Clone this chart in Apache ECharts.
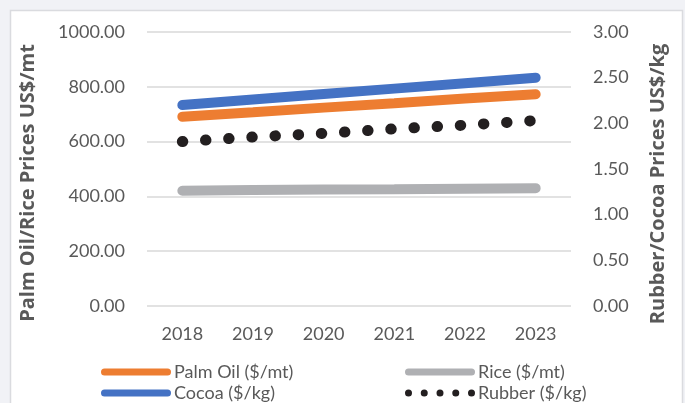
<!DOCTYPE html>
<html>
<head>
<meta charset="utf-8">
<script src="https://cdn.jsdelivr.net/npm/echarts@6/dist/echarts.min.js"></script>
<style>
html,body{margin:0;padding:0;background:#f1f2f6;}
#c{width:685px;height:403px;}
</style>
</head>
<body>
<div id="c"></div>
<script>
var years = ['2018', '2019', '2020', '2021', '2022', '2023'];
var palmOil = [691, 707, 724, 740, 757, 773];
var rice = [421, 423, 425, 426, 428, 430];
var cocoa = [2.20, 2.26, 2.32, 2.38, 2.44, 2.50];
var rubber = [1.80, 1.85, 1.89, 1.94, 1.98, 2.03];
var leftTicks = [0, 1000, 200];
var rightTicks = [0, 3, 0.5];

var FONT = 'Lato';
var TXT = '#595959';
var capsule = 'path://M3.5,0 H66.5 A3.5,3.5 0 0 1 66.5,7 H3.5 A3.5,3.5 0 0 1 3.5,0 Z';
var dots = 'path://M0,3.5 A3.5,3.5 0 1 0 7,3.5 A3.5,3.5 0 1 0 0,3.5 Z ' +
  'M15.75,3.5 A3.5,3.5 0 1 0 22.75,3.5 A3.5,3.5 0 1 0 15.75,3.5 Z ' +
  'M31.5,3.5 A3.5,3.5 0 1 0 38.5,3.5 A3.5,3.5 0 1 0 31.5,3.5 Z ' +
  'M47.25,3.5 A3.5,3.5 0 1 0 54.25,3.5 A3.5,3.5 0 1 0 47.25,3.5 Z ' +
  'M63,3.5 A3.5,3.5 0 1 0 70,3.5 A3.5,3.5 0 1 0 63,3.5 Z';

var chart = echarts.init(document.getElementById('c'), null, {renderer: 'canvas'});
var legendText = {color: TXT, fontFamily: FONT, fontSize: 18, lineHeight: 20, padding: [0, 0, 0, -2]};
chart.setOption({
  backgroundColor: '#f1f2f6',
  animation: false,
  graphic: [
    {type: 'rect', z: -100, shape: {x: 10.5, y: 10.5, width: 672, height: 400},
     style: {fill: '#ffffff', stroke: '#dadbdf', lineWidth: 1.5}},
    {type: 'text', x: 28, y: 183, rotation: Math.PI / 2,
     style: {text: 'Palm Oil/Rice Prices US$/mt', fill: TXT, font: 'bold 20px "Open Sans"', align: 'center', verticalAlign: 'middle'}},
    {type: 'text', x: 658, y: 184, rotation: Math.PI / 2,
     style: {text: 'Rubber/Cocoa Prices US$/kg', fill: TXT, font: 'bold 20px "Open Sans"', align: 'center', verticalAlign: 'middle'}}
  ],
  grid: {left: 147, right: 114, top: 32, bottom: 97},
  legend: [
    {orient: 'vertical', left: 101, top: 362, height: 60, padding: 0, itemWidth: 70, itemHeight: 7, itemGap: 1,
     textStyle: legendText, itemStyle: {borderWidth: 0},
     data: [{name: 'Palm Oil ($/mt)', icon: capsule}, {name: 'Cocoa ($/kg)', icon: capsule}]},
    {orient: 'vertical', left: 405, top: 362, height: 60, padding: 0, itemWidth: 70, itemHeight: 7, itemGap: 1,
     textStyle: legendText, itemStyle: {borderWidth: 0},
     data: [{name: 'Rice ($/mt)', icon: capsule}, {name: 'Rubber ($/kg)', icon: dots}]}
  ],
  xAxis: {
    type: 'category', data: years, boundaryGap: true,
    axisLine: {show: false}, axisTick: {show: false},
    axisLabel: {color: TXT, fontFamily: FONT, fontSize: 18, margin: 19}
  },
  yAxis: [
    {type: 'value', min: leftTicks[0], max: leftTicks[1], interval: leftTicks[2], position: 'left',
     axisLine: {show: false}, axisTick: {show: false},
     splitLine: {lineStyle: {color: '#d9d9d9', width: 1.5}},
     axisLabel: {color: TXT, fontFamily: FONT, fontSize: 18, margin: 22,
       formatter: function (v) { return v.toFixed(2); }}},
    {type: 'value', min: rightTicks[0], max: rightTicks[1], interval: rightTicks[2], position: 'right',
     axisLine: {show: false}, axisTick: {show: false}, splitLine: {show: false},
     axisLabel: {color: TXT, fontFamily: FONT, fontSize: 18, margin: 22,
       formatter: function (v) { return v.toFixed(2); }}}
  ],
  series: [
    {name: 'Palm Oil ($/mt)', type: 'line', yAxisIndex: 0, data: palmOil, symbol: 'none',
     color: '#ed7d31', lineStyle: {width: 10, cap: 'round', color: '#ed7d31'}, z: 3},
    {name: 'Rice ($/mt)', type: 'line', yAxisIndex: 0, data: rice, symbol: 'none',
     color: '#afb0b3', lineStyle: {width: 10, cap: 'round', color: '#afb0b3'}, z: 2},
    {name: 'Cocoa ($/kg)', type: 'line', yAxisIndex: 1, data: cocoa, symbol: 'none',
     color: '#4472c4', lineStyle: {width: 10, cap: 'round', color: '#4472c4'}, z: 4},
    {name: 'Rubber ($/kg)', type: 'line', yAxisIndex: 1, data: rubber, symbol: 'none',
     color: '#231f20', lineStyle: {width: 11, cap: 'round', type: [0.5, 22.7], color: '#231f20'}, z: 5}
  ]
});
</script>
</body>
</html>
